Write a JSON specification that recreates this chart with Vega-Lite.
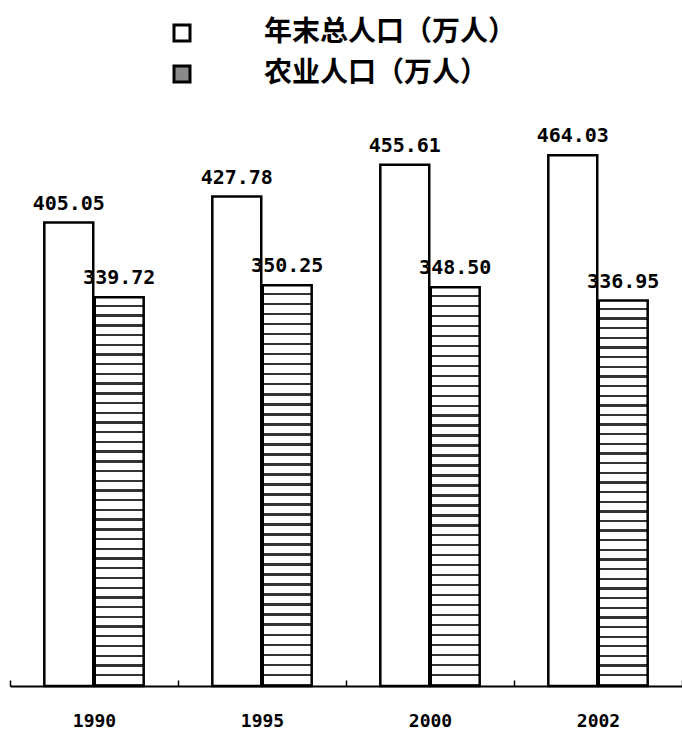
{
  "$schema": "https://vega.github.io/schema/vega-lite/v6.json",
  "width": 672,
  "height": 572,
  "autosize": "none",
  "padding": {"left": 10, "top": 114, "right": 0, "bottom": 47},
  "background": "white",
  "config": {"view": {"stroke": null}},
  "data": {"values": [
    {"year": "1990", "series": "年末总人口（万人）", "value": 405.05},
    {"year": "1990", "series": "农业人口（万人）", "value": 339.72},
    {"year": "1995", "series": "年末总人口（万人）", "value": 427.78},
    {"year": "1995", "series": "农业人口（万人）", "value": 350.25},
    {"year": "2000", "series": "年末总人口（万人）", "value": 455.61},
    {"year": "2000", "series": "农业人口（万人）", "value": 348.50},
    {"year": "2002", "series": "年末总人口（万人）", "value": 464.03},
    {"year": "2002", "series": "农业人口（万人）", "value": 336.95}
  ]},
  "encoding": {
    "x": {"field": "year", "type": "nominal", "scale": {"paddingInner": 0, "paddingOuter": 0},
      "axis": {"title": null, "labelAngle": 0, "labelFont": "DejaVu Sans Mono", "labelFontWeight": "bold", "labelFontSize": 18, "labelColor": "black",
        "domainColor": "black", "domainWidth": 2, "tickBand": "extent", "tickColor": "black", "tickWidth": 1.5, "tickSize": -6, "labelPadding": 32}},
    "xOffset": {"field": "series", "type": "nominal", "sort": ["年末总人口（万人）", "农业人口（万人）"], "scale": {"paddingInner": 0.03, "paddingOuter": 0.68}},
    "y": {"field": "value", "type": "quantitative", "scale": {"domain": [0, 500]}, "axis": null}
  },
  "layer": [
    {
      "mark": {"type": "bar", "stroke": "black", "strokeWidth": 2.5},
      "encoding": {
        "fill": {"field": "series", "type": "nominal", "sort": ["年末总人口（万人）", "农业人口（万人）"],
          "scale": {"range": ["#ffffff", "#8a8a8a"]},
          "condition": {"test": "datum.series === '农业人口（万人）'", "value": {"gradient": "linear", "x1": 0, "y1": 0, "x2": 0, "y2": 1, "stops": [
            {"offset":0,"color":"#fff"},{"offset":0.019,"color":"#fff"},{"offset":0.019,"color":"#333"},{"offset":0.025,"color":"#333"},
            {"offset":0.025,"color":"#fff"},{"offset":0.044,"color":"#fff"},{"offset":0.044,"color":"#333"},{"offset":0.05,"color":"#333"},
            {"offset":0.05,"color":"#fff"},{"offset":0.069,"color":"#fff"},{"offset":0.069,"color":"#333"},{"offset":0.075,"color":"#333"},
            {"offset":0.075,"color":"#fff"},{"offset":0.094,"color":"#fff"},{"offset":0.094,"color":"#333"},{"offset":0.1,"color":"#333"},
            {"offset":0.1,"color":"#fff"},{"offset":0.119,"color":"#fff"},{"offset":0.119,"color":"#333"},{"offset":0.125,"color":"#333"},
            {"offset":0.125,"color":"#fff"},{"offset":0.144,"color":"#fff"},{"offset":0.144,"color":"#333"},{"offset":0.15,"color":"#333"},
            {"offset":0.15,"color":"#fff"},{"offset":0.169,"color":"#fff"},{"offset":0.169,"color":"#333"},{"offset":0.175,"color":"#333"},
            {"offset":0.175,"color":"#fff"},{"offset":0.194,"color":"#fff"},{"offset":0.194,"color":"#333"},{"offset":0.2,"color":"#333"},
            {"offset":0.2,"color":"#fff"},{"offset":0.219,"color":"#fff"},{"offset":0.219,"color":"#333"},{"offset":0.225,"color":"#333"},
            {"offset":0.225,"color":"#fff"},{"offset":0.244,"color":"#fff"},{"offset":0.244,"color":"#333"},{"offset":0.25,"color":"#333"},
            {"offset":0.25,"color":"#fff"},{"offset":0.269,"color":"#fff"},{"offset":0.269,"color":"#333"},{"offset":0.275,"color":"#333"},
            {"offset":0.275,"color":"#fff"},{"offset":0.294,"color":"#fff"},{"offset":0.294,"color":"#333"},{"offset":0.3,"color":"#333"},
            {"offset":0.3,"color":"#fff"},{"offset":0.319,"color":"#fff"},{"offset":0.319,"color":"#333"},{"offset":0.325,"color":"#333"},
            {"offset":0.325,"color":"#fff"},{"offset":0.344,"color":"#fff"},{"offset":0.344,"color":"#333"},{"offset":0.35,"color":"#333"},
            {"offset":0.35,"color":"#fff"},{"offset":0.369,"color":"#fff"},{"offset":0.369,"color":"#333"},{"offset":0.375,"color":"#333"},
            {"offset":0.375,"color":"#fff"},{"offset":0.394,"color":"#fff"},{"offset":0.394,"color":"#333"},{"offset":0.4,"color":"#333"},
            {"offset":0.4,"color":"#fff"},{"offset":0.419,"color":"#fff"},{"offset":0.419,"color":"#333"},{"offset":0.425,"color":"#333"},
            {"offset":0.425,"color":"#fff"},{"offset":0.444,"color":"#fff"},{"offset":0.444,"color":"#333"},{"offset":0.45,"color":"#333"},
            {"offset":0.45,"color":"#fff"},{"offset":0.469,"color":"#fff"},{"offset":0.469,"color":"#333"},{"offset":0.475,"color":"#333"},
            {"offset":0.475,"color":"#fff"},{"offset":0.494,"color":"#fff"},{"offset":0.494,"color":"#333"},{"offset":0.5,"color":"#333"},
            {"offset":0.5,"color":"#fff"},{"offset":0.519,"color":"#fff"},{"offset":0.519,"color":"#333"},{"offset":0.525,"color":"#333"},
            {"offset":0.525,"color":"#fff"},{"offset":0.544,"color":"#fff"},{"offset":0.544,"color":"#333"},{"offset":0.55,"color":"#333"},
            {"offset":0.55,"color":"#fff"},{"offset":0.569,"color":"#fff"},{"offset":0.569,"color":"#333"},{"offset":0.575,"color":"#333"},
            {"offset":0.575,"color":"#fff"},{"offset":0.594,"color":"#fff"},{"offset":0.594,"color":"#333"},{"offset":0.6,"color":"#333"},
            {"offset":0.6,"color":"#fff"},{"offset":0.619,"color":"#fff"},{"offset":0.619,"color":"#333"},{"offset":0.625,"color":"#333"},
            {"offset":0.625,"color":"#fff"},{"offset":0.644,"color":"#fff"},{"offset":0.644,"color":"#333"},{"offset":0.65,"color":"#333"},
            {"offset":0.65,"color":"#fff"},{"offset":0.669,"color":"#fff"},{"offset":0.669,"color":"#333"},{"offset":0.675,"color":"#333"},
            {"offset":0.675,"color":"#fff"},{"offset":0.694,"color":"#fff"},{"offset":0.694,"color":"#333"},{"offset":0.7,"color":"#333"},
            {"offset":0.7,"color":"#fff"},{"offset":0.719,"color":"#fff"},{"offset":0.719,"color":"#333"},{"offset":0.725,"color":"#333"},
            {"offset":0.725,"color":"#fff"},{"offset":0.744,"color":"#fff"},{"offset":0.744,"color":"#333"},{"offset":0.75,"color":"#333"},
            {"offset":0.75,"color":"#fff"},{"offset":0.769,"color":"#fff"},{"offset":0.769,"color":"#333"},{"offset":0.775,"color":"#333"},
            {"offset":0.775,"color":"#fff"},{"offset":0.794,"color":"#fff"},{"offset":0.794,"color":"#333"},{"offset":0.8,"color":"#333"},
            {"offset":0.8,"color":"#fff"},{"offset":0.819,"color":"#fff"},{"offset":0.819,"color":"#333"},{"offset":0.825,"color":"#333"},
            {"offset":0.825,"color":"#fff"},{"offset":0.844,"color":"#fff"},{"offset":0.844,"color":"#333"},{"offset":0.85,"color":"#333"},
            {"offset":0.85,"color":"#fff"},{"offset":0.869,"color":"#fff"},{"offset":0.869,"color":"#333"},{"offset":0.875,"color":"#333"},
            {"offset":0.875,"color":"#fff"},{"offset":0.894,"color":"#fff"},{"offset":0.894,"color":"#333"},{"offset":0.9,"color":"#333"},
            {"offset":0.9,"color":"#fff"},{"offset":0.919,"color":"#fff"},{"offset":0.919,"color":"#333"},{"offset":0.925,"color":"#333"},
            {"offset":0.925,"color":"#fff"},{"offset":0.944,"color":"#fff"},{"offset":0.944,"color":"#333"},{"offset":0.95,"color":"#333"},
            {"offset":0.95,"color":"#fff"},{"offset":0.969,"color":"#fff"},{"offset":0.969,"color":"#333"},{"offset":0.975,"color":"#333"},
            {"offset":0.975,"color":"#fff"},{"offset":0.994,"color":"#fff"},{"offset":0.994,"color":"#333"},{"offset":1,"color":"#333"}
          ]}},
          "legend": {"orient": "none", "legendX": 158, "legendY": -95, "title": null, "symbolType": "square", "symbolSize": 256,
            "symbolStrokeWidth": 3, "symbolStrokeColor": "black", "labelFont": "Noto Sans CJK SC", "labelFontSize": 28, "labelFontWeight": "bold",
            "labelColor": "black", "labelOffset": 68, "rowPadding": 13, "labelLimit": 400}
        }
      }
    },
    {
      "mark": {"type": "text", "baseline": "bottom", "dy": -9, "font": "DejaVu Sans Mono", "fontWeight": "bold", "fontSize": 20, "color": "black"},
      "encoding": {"text": {"field": "value", "type": "quantitative", "format": ".2f"}}
    }
  ]
}
